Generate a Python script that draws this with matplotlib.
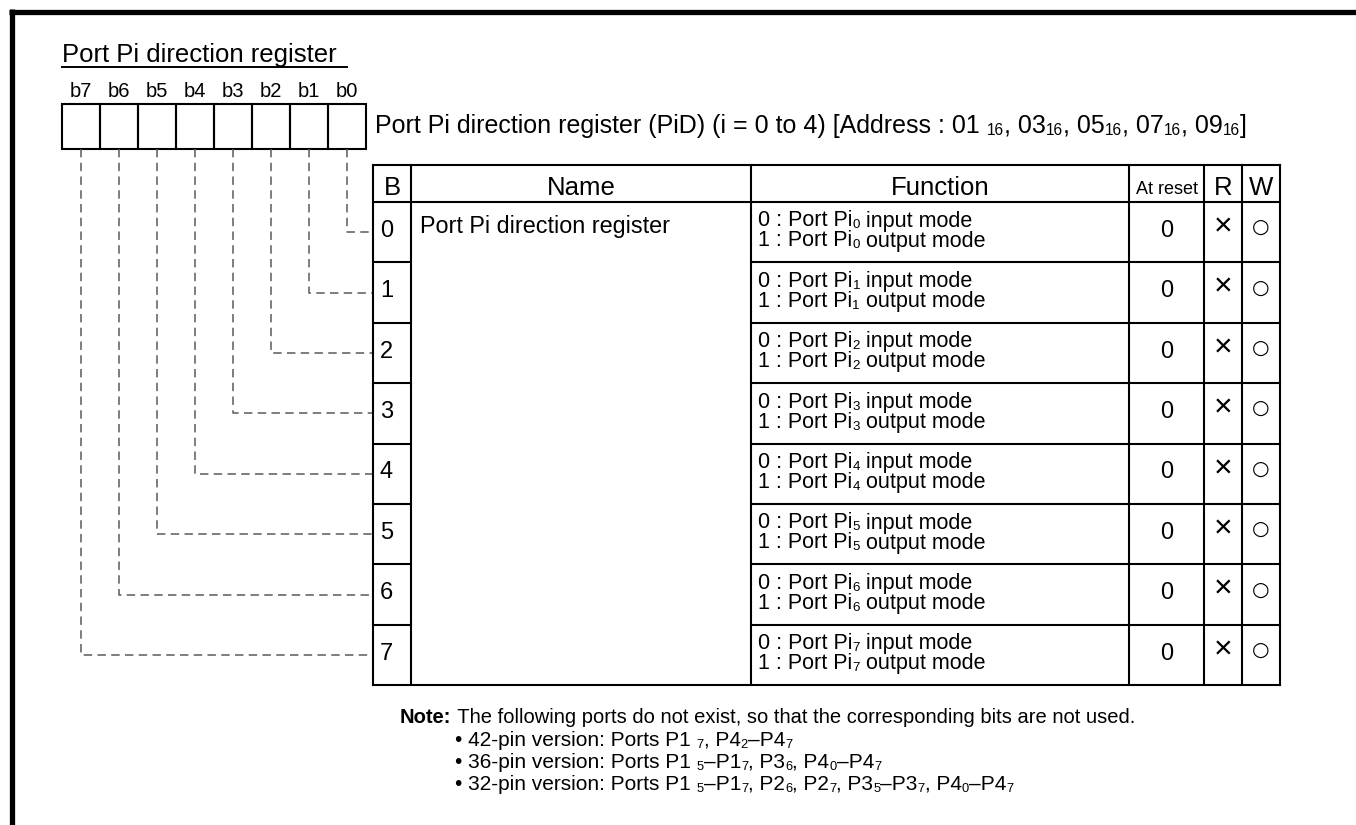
import re
import matplotlib.pyplot as plt

plt.rcParams['font.family'] = ['Liberation Sans', 'DejaVu Sans']

# register / table content
register_title = 'Port Pi direction register'
bit_labels = ['b7', 'b6', 'b5', 'b4', 'b3', 'b2', 'b1', 'b0']
register_caption = ('Port Pi direction register (PiD) (i = 0 to 4) '
                    '[Address : 01 _{16}, 03_{16}, 05_{16}, 07_{16}, 09_{16}]')
header_labels = ['B', 'Name', 'Function', 'At reset', 'R', 'W']
bit_numbers = ['0', '1', '2', '3', '4', '5', '6', '7']
bit_name = 'Port Pi direction register'
function_lines = [
    ('0 : Port Pi_{0} input mode', '1 : Port Pi_{0} output mode'),
    ('0 : Port Pi_{1} input mode', '1 : Port Pi_{1} output mode'),
    ('0 : Port Pi_{2} input mode', '1 : Port Pi_{2} output mode'),
    ('0 : Port Pi_{3} input mode', '1 : Port Pi_{3} output mode'),
    ('0 : Port Pi_{4} input mode', '1 : Port Pi_{4} output mode'),
    ('0 : Port Pi_{5} input mode', '1 : Port Pi_{5} output mode'),
    ('0 : Port Pi_{6} input mode', '1 : Port Pi_{6} output mode'),
    ('0 : Port Pi_{7} input mode', '1 : Port Pi_{7} output mode'),
]
reset_values = ['0', '0', '0', '0', '0', '0', '0', '0']
read_marks = ['×', '×', '×', '×', '×', '×', '×', '×']
write_marks = ['○', '○', '○', '○', '○', '○', '○', '○']
note_head = 'Note:'
note_text = ' The following ports do not exist, so that the corresponding bits are not used.'
note_items = [
    '• 42-pin version: Ports P1 _{7}, P4_{2}–P4_{7}',
    '• 36-pin version: Ports P1 _{5}–P1_{7}, P3_{6}, P4_{0}–P4_{7}',
    '• 32-pin version: Ports P1 _{5}–P1_{7}, P2_{6}, P2_{7}, P3_{5}–P3_{7}, P4_{0}–P4_{7}',
]

# layout in pixels
W, H = 1356, 825
box_left, cell_w, box_top, box_bottom = 62, 38, 104, 149
col_x = [373, 411, 751, 1129, 1204, 1242, 1280]
table_top, head_bottom, row_h = 165, 202, 60.4
dash_color = '#5a5a5a'

fig = plt.figure(figsize=(W / 100, H / 100), dpi=100)
ax = fig.add_axes([0, 0, 1, 1])
ax.set_xlim(0, W)
ax.set_ylim(H, 0)
ax.axis('off')
renderer = fig.canvas.get_renderer()


def rich_text(x, y, text, size, sub_scale=0.62, sub_drop=2, **kw):
    """Draw text with _{..} parts as small subscripts, baseline at y."""
    parts = re.split(r'(_\{[^}]*\})', text)
    for part in parts:
        if not part:
            continue
        if part.startswith('_{'):
            t = ax.text(x, y + sub_drop, part[2:-1], fontsize=size * sub_scale,
                        va='baseline', ha='left', **kw)
        else:
            t = ax.text(x, y, part, fontsize=size, va='baseline', ha='left', **kw)
        x += t.get_window_extent(renderer).width
    return x


# outer frame (top and left)
ax.plot([9, W], [11.5, 11.5], color='black', lw=3.8, solid_capstyle='butt')
ax.plot([11.5, 11.5], [9, H], color='black', lw=3.8, solid_capstyle='butt')

# title
x_end = rich_text(box_left, 62, register_title, 18.5)
ax.plot([box_left, x_end + 10], [66.5, 66.5], color='black', lw=1.4)

# bit boxes
for i, lab in enumerate(bit_labels):
    cx = box_left + cell_w * (i + 0.5)
    ax.text(cx, 97, lab, fontsize=14.5, ha='center', va='baseline')
    ax.add_patch(plt.Rectangle((box_left + cell_w * i, box_top), cell_w, box_bottom - box_top,
                               fill=False, ec='black', lw=1.5))

rich_text(375, 133, register_caption, 18)

# dashed connectors from bit boxes to table rows
for k in range(8):
    cx = box_left + cell_w * (7 - k + 0.5)
    cy = head_bottom + row_h * (k + 0.5)
    ax.plot([cx, cx, col_x[0]], [box_bottom, cy, cy], color=dash_color, lw=1.1,
            dashes=(5.5, 3.5))

# table frame
table_bottom = head_bottom + row_h * 8
for x in col_x:
    ax.plot([x, x], [table_top, table_bottom], color='black', lw=1.5)
ax.plot([col_x[0], col_x[-1]], [table_top, table_top], color='black', lw=1.5)
ax.plot([col_x[0], col_x[-1]], [head_bottom, head_bottom], color='black', lw=1.5)
ax.plot([col_x[0], col_x[-1]], [table_bottom, table_bottom], color='black', lw=1.5)
for k in range(1, 8):
    y = head_bottom + row_h * k
    ax.plot([col_x[0], col_x[1]], [y, y], color='black', lw=1.5)
    ax.plot([col_x[2], col_x[-1]], [y, y], color='black', lw=1.5)

# header
for j, lab in enumerate(header_labels):
    cx = (col_x[j] + col_x[j + 1]) / 2
    if lab == 'At reset':
        ax.text(cx, 194, lab, fontsize=13, ha='center', va='baseline')
    else:
        ax.text(cx, 195, lab, fontsize=18.5, ha='center', va='baseline')

# rows
for k in range(8):
    top = head_bottom + row_h * k
    base = top + row_h / 2 + 4.5
    ax.text(col_x[0] + 7, base, bit_numbers[k], fontsize=17, ha='left', va='baseline')
    rich_text(col_x[2] + 7, top + 24.5, function_lines[k][0], 15.5)
    rich_text(col_x[2] + 7, top + 44.5, function_lines[k][1], 15.5)
    ax.text((col_x[3] + col_x[4]) / 2, base, reset_values[k], fontsize=17,
            ha='center', va='baseline')
    ax.text((col_x[4] + col_x[5]) / 2, top + 25.5, read_marks[k], fontsize=23,
            ha='center', va='center')
    ax.text((col_x[5] + col_x[6]) / 2, top + 25.5, write_marks[k], fontsize=14.5,
            ha='center', va='center', family='DejaVu Sans')
rich_text(col_x[1] + 9, head_bottom + 31, bit_name, 16.8)

# note
t = ax.text(400, 723, note_head, fontsize=14.5, fontweight='bold', va='baseline')
x = 400 + t.get_window_extent(renderer).width
rich_text(x, 723, note_text, 14.5)
for i, item in enumerate(note_items):
    rich_text(455, 746 + 22 * i, item, 15)

fig.savefig('out.png', dpi=100)
